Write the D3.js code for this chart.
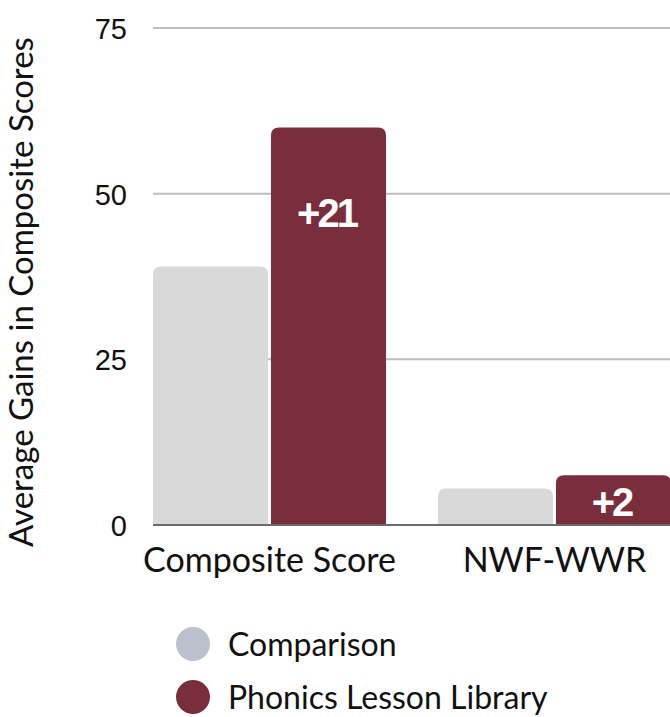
<!DOCTYPE html>
<html lang="en">
<head>
  <meta charset="UTF-8">
  <title>Average Gains in Composite Scores</title>
  <script src="https://cdn.jsdelivr.net/npm/d3@7"></script>
  <style>
    body { margin: 0; background: #fff; }
    svg { display: block; }
  </style>
</head>
<body>
<div id="grafica"></div>
<script>
// datos
categorias = ['Composite Score', 'NWF-WWR']
series     = ['Comparison', 'Phonics Lesson Library']
comparison = [39, 5.5]
phonics    = [60, 7.5]
ganancias  = ['+21', '+2']
yTicks     = [0, 25, 50, 75]

colores      = { 'Comparison': '#d9d9d9', 'Phonics Lesson Library': '#7a2e3b' }
coloresLeyenda = { 'Comparison': '#bcc0cc', 'Phonics Lesson Library': '#7a2e3b' }

ancho_total = 670
alto_total  = 717
margin = { left: 153, right: 0, top: 28, bottom: 192 }

ancho = ancho_total - margin.left - margin.right
alto  = alto_total - margin.top - margin.bottom

svg = d3.select('#grafica')
  .append('svg')
  .attr('width', ancho_total)
  .attr('height', alto_total)

g = svg.append('g')
  .attr('transform', `translate(${margin.left}, ${margin.top})`)

x = d3.scaleBand()
  .domain(categorias)
  .range([0, ancho + 1])
  .paddingInner(0.1825)
  .paddingOuter(0)

xs = d3.scaleBand()
  .domain(series)
  .range([0, x.bandwidth()])
  .paddingInner(0.025)

y = d3.scaleLinear()
  .domain([0, 75])
  .range([alto, 0])

// grid
g.selectAll('.grid')
  .data(yTicks.filter(d => d > 0))
  .enter().append('line')
  .attr('x1', 0).attr('x2', ancho)
  .attr('y1', d => y(d)).attr('y2', d => y(d))
  .attr('stroke', '#bdbdbd')
  .attr('stroke-width', 2)

// eje y
yAxis = g.append('g')
  .call(d3.axisLeft(y).tickValues(yTicks).tickSize(0).tickPadding(26))
yAxis.select('.domain').remove()
yAxis.selectAll('text')
  .attr('font-family', '"Liberation Sans", Arial, sans-serif')
  .attr('font-size', 29)
  .attr('fill', '#111')
  .attr('dy', '0.36em')

// barras con esquinas superiores redondeadas
function barra(x0, w, top, bottom, r) {
  r = Math.min(r, (bottom - top))
  return `M${x0},${bottom} L${x0},${top + r} Q${x0},${top} ${x0 + r},${top}` +
         ` L${x0 + w - r},${top} Q${x0 + w},${top} ${x0 + w},${top + r}` +
         ` L${x0 + w},${bottom} Z`
}

datos = []
categorias.forEach((c, i) => {
  datos.push({ cat: c, serie: 'Comparison', value: comparison[i] })
  datos.push({ cat: c, serie: 'Phonics Lesson Library', value: phonics[i], label: ganancias[i] })
})

g.selectAll('.bar')
  .data(datos)
  .enter().append('path')
  .attr('fill', d => colores[d.serie])
  .attr('d', d => barra(x(d.cat) + xs(d.serie), xs.bandwidth(), y(d.value), y(0), 8))

// etiquetas de ganancia
g.selectAll('.gain')
  .data(datos.filter(d => d.label))
  .enter().append('text')
  .attr('x', d => x(d.cat) + xs(d.serie) + xs.bandwidth() / 2 - 2)
  .attr('y', d => {
    h = y(0) - y(d.value)
    return y(d.value) + Math.min(h / 2 + 3, 87) + 13
  })
  .attr('text-anchor', 'middle')
  .attr('font-family', '"Liberation Sans", Arial, sans-serif')
  .attr('font-weight', 'bold')
  .attr('font-size', 40)
  .attr('letter-spacing', -3)
  .attr('fill', '#fff')
  .text(d => d.label)

// linea base
g.append('line')
  .attr('x1', 0).attr('x2', ancho)
  .attr('y1', y(0)).attr('y2', y(0))
  .attr('stroke', '#6b6b6b')
  .attr('stroke-width', 2)

// eje x
xAxis = g.append('g')
  .attr('transform', `translate(0, ${alto})`)
  .call(d3.axisBottom(x).tickSize(0).tickPadding(23))
xAxis.select('.domain').remove()
xAxis.selectAll('text')
  .attr('font-family', 'Lato, "Noto Sans", sans-serif')
  .attr('font-size', 34)
  .attr('fill', '#111')

// titulo eje y
svg.append('text')
  .attr('transform', 'translate(33, 292) rotate(-90)')
  .attr('text-anchor', 'middle')
  .attr('font-family', 'Lato, "Noto Sans", sans-serif')
  .attr('font-size', 33)
  .attr('fill', '#111')
  .text('Average Gains in Composite Scores')

// leyenda
leyenda = svg.append('g')
  .attr('transform', 'translate(193, 644)')

item = leyenda.selectAll('.item')
  .data(series)
  .enter().append('g')
  .attr('transform', (d, i) => `translate(0, ${i * 53})`)

item.append('circle')
  .attr('r', 17)
  .attr('fill', d => coloresLeyenda[d])

item.append('text')
  .attr('x', 35)
  .attr('dy', '0.36em')
  .attr('font-family', 'Lato, "Noto Sans", sans-serif')
  .attr('font-size', 32)
  .attr('fill', '#111')
  .text(d => d)
</script>
</body>
</html>
